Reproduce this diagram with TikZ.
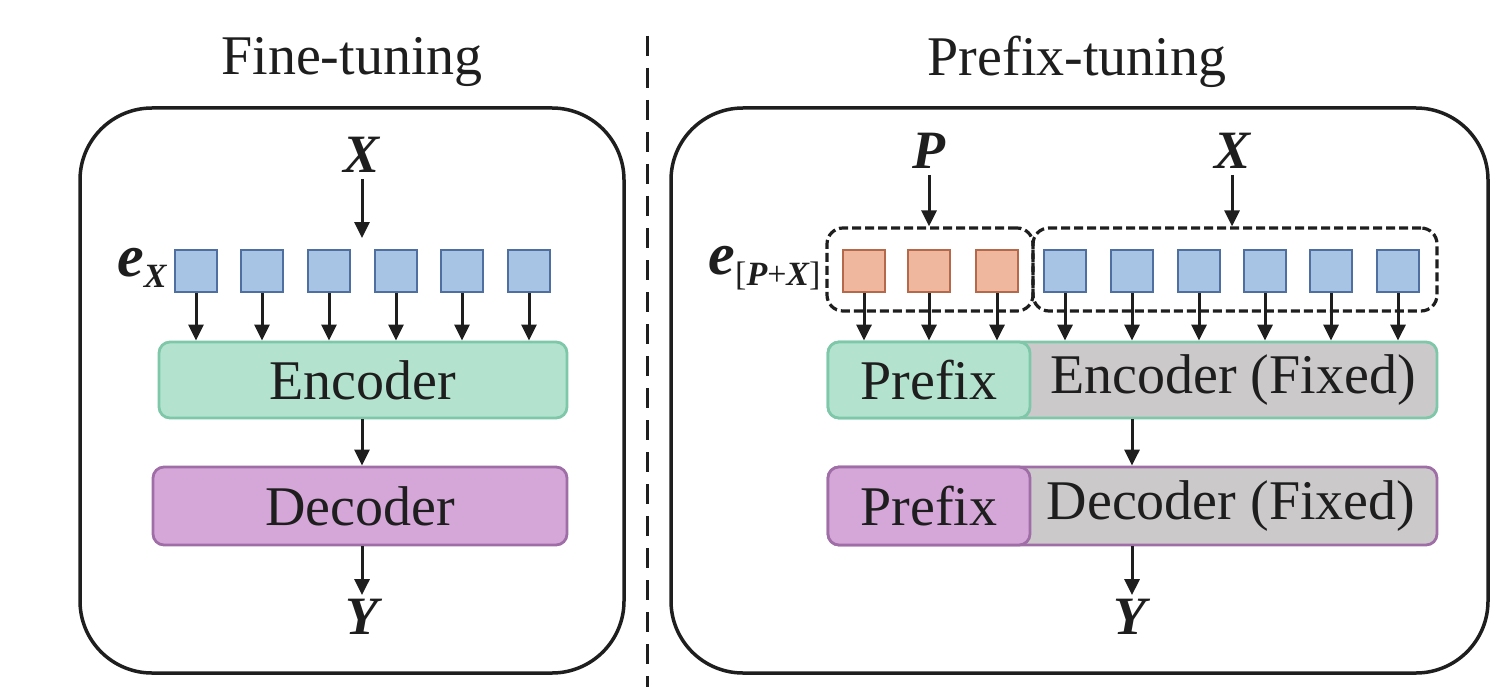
\documentclass[tikz,border=0pt]{standalone}
\usepackage{fontspec}
\setmainfont{Liberation Serif}
\usetikzlibrary{arrows.meta}
\definecolor{sqblue}{HTML}{A8C4E5}
\definecolor{sqblueb}{HTML}{4F6FA0}
\definecolor{sqor}{HTML}{EFB79E}
\definecolor{sqorb}{HTML}{B5684A}
\definecolor{encg}{HTML}{B3E3CF}
\definecolor{encgb}{HTML}{7EC7A8}
\definecolor{decp}{HTML}{D5A6D8}
\definecolor{decpb}{HTML}{A06EA7}
\definecolor{fixg}{HTML}{CCC9CA}
\definecolor{ink}{HTML}{1E1E1E}
\begin{document}
\begin{tikzpicture}[x=1pt,y=-1pt,
  every node/.style={text=ink},
  panel/.style={draw=ink,line width=3.5pt,rounded corners=72pt},
  title/.style={font=\fontsize{56}{60}\selectfont},
  var/.style={font=\fontsize{54}{58}\selectfont\bfseries\itshape,inner sep=2pt},
  bluesq/.style={draw=sqblueb,fill=sqblue,line width=2.2pt,minimum size=42pt,inner sep=0pt},
  orsq/.style={draw=sqorb,fill=sqor,line width=2.2pt,minimum size=42pt,inner sep=0pt},
  blk/.style={line width=2.8pt,rounded corners=11pt,inner sep=0pt,font=\fontsize{56}{60}\selectfont},
  grp/.style={draw=ink,line width=3.2pt,dash pattern=on 9pt off 4pt,rounded corners=16pt,inner sep=0pt},
  arr/.style={draw=ink,line width=3pt,-{Triangle[length=16pt,width=15pt]}},
]
\useasboundingbox (0,0) rectangle (1506,687);

% divider
\draw[ink,line width=3pt,dash pattern=on 20pt off 12pt] (647,36) -- (647,687);

% titles
\node[title] (t1) at (352,62) {Fine-tuning};
\node[title] (t2) at (1077,62) {Prefix-tuning};

% panels
\draw[panel] (80,108) rectangle (624,673);
\draw[panel] (671,108) rectangle (1488,673);

% ---------- left panel ----------
\node[var] (lx) at (362,155) {X};
\coordinate (lxin) at (362,238);
\draw[arr] ([yshift=-4pt]lx.south) -- (lxin);

\node[anchor=east] (lex) at (170,268) {\fontsize{60}{64}\selectfont\bfseries\itshape e\raisebox{-0.18em}{\fontsize{34}{36}\selectfont X}};

\foreach \i/\x in {1/196,2/262,3/329,4/396,5/462,6/529}{
  \node[bluesq] (ls\i) at (\x,271) {};
}
\node[blk,draw=encgb,fill=encg,minimum width=408pt,minimum height=76pt] (lenc) at (363,380) {Encoder};
\node[blk,draw=decpb,fill=decp,minimum width=414pt,minimum height=78pt] (ldec) at (360,506) {Decoder};
\foreach \i in {1,...,6}{
  \draw[arr] (ls\i.south) -- (ls\i.south |- lenc.north);
}
\draw[arr] (lenc.south -| 362,0) -- (ldec.north -| 362,0);
\node[var] (ly) at (362,617) {Y};
\draw[arr] (ldec.south -| 362,0) -- ([yshift=2pt]ly.north);

% ---------- right panel ----------
\node[var] (rp) at (929,151) {P};
\node[var] (rx) at (1232,151) {X};

\node[grp,minimum width=206pt,minimum height=83pt] (pgrp) at (930,269.5) {};
\node[grp,minimum width=404pt,minimum height=83pt] (xgrp) at (1235,269.5) {};
\draw[arr] ([yshift=-4pt]rp.south) -- (pgrp.north -| rp.south);
\draw[arr] ([yshift=-4pt]rx.south) -- (xgrp.north -| rx.south);

\node[anchor=east] (rex) at (824,268) {\fontsize{60}{64}\selectfont\bfseries\itshape e\raisebox{-0.18em}{\fontsize{34}{36}\selectfont\mdseries\upshape[\bfseries\itshape P\mdseries\upshape+\bfseries\itshape X\mdseries\upshape]}};

\foreach \i/\x in {1/864,2/929,3/997}{
  \node[orsq] (ps\i) at (\x,271) {};
}
\foreach \i/\x in {1/1065,2/1132,3/1199,4/1265,5/1331,6/1398}{
  \node[bluesq] (xs\i) at (\x,271) {};
}

% encoder row
\node[blk,draw=encgb,fill=fixg,minimum width=609pt,minimum height=76pt] (renc) at (1132.5,380) {};
\node[blk,draw=encgb,fill=encg,minimum width=202pt,minimum height=76pt] (rpenc) at (929,380) {Prefix};
\node[font=\fontsize{56}{60}\selectfont] (rencl) at (1233,380) {Encoder (Fixed)};

% decoder row
\node[blk,draw=decpb,fill=fixg,minimum width=609pt,minimum height=78pt] (rdec) at (1132.5,506) {};
\node[blk,draw=decpb,fill=decp,minimum width=202pt,minimum height=78pt] (rpdec) at (929,506) {Prefix};
\node[font=\fontsize{56}{60}\selectfont] (rdecl) at (1231,506) {Decoder (Fixed)};

\foreach \i in {1,2,3}{
  \draw[arr] (ps\i.south) -- (ps\i.south |- renc.north);
}
\foreach \i in {1,...,6}{
  \draw[arr] (xs\i.south) -- (xs\i.south |- renc.north);
}
\draw[arr] (renc.south -| 1132,0) -- (rdec.north -| 1132,0);
\node[var] (ry) at (1130,617) {Y};
\draw[arr] (rdec.south -| 1132,0) -- ([yshift=2pt]ry.north -| 1132,0);

\end{tikzpicture}
\end{document}
